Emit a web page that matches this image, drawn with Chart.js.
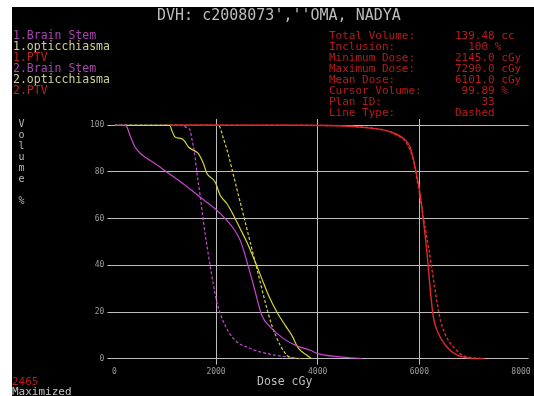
<!DOCTYPE html>
<html>
<head>
<meta charset="utf-8">
<script src="https://cdn.jsdelivr.net/npm/chart.js@4.4.1/dist/chart.umd.min.js"></script>
<style>
  html, body { margin: 0; padding: 0; background: #fff; }
  body { width: 534px; height: 396px; position: relative; overflow: hidden; font-family: "DejaVu Sans Mono", "Liberation Mono", monospace; }
  #panel { position: absolute; left: 12px; top: 7px; width: 522px; height: 389px; background: #000; }
  #chart { position: absolute; left: 0; top: 0; }
  .txt { position: absolute; white-space: pre; }
  #title { left: 157px; top: 6px; font-size: 15px; line-height: 18px; color: #bdbdbd; }
  #legend { left: 13px; top: 30px; font-size: 11.5px; line-height: 11px; }
  #info { left: 329px; top: 30px; font-size: 11px; line-height: 11px; color: #b81c1c; }
  #vals { left: 455px; top: 30px; font-size: 11px; line-height: 11px; color: #b81c1c; }
  #ylab { left: 17px; top: 118px; font-size: 10px; line-height: 11px; color: #b8b8b8; text-align: center; width: 9px; }
  #xlab { left: 257px; top: 375px; font-size: 11.5px; line-height: 13px; color: #bcbcbc; }
  #num { left: 12px; top: 376px; font-size: 11px; line-height: 11px; color: #b81c1c; }
  #maxi { left: 12px; top: 386px; font-size: 11px; line-height: 11px; color: #c4c4c4; }
</style>
</head>
<body>
<div id="panel"></div>
<canvas id="chart" width="534" height="396"></canvas>
<div class="txt" id="title">DVH: c2008073',''OMA, NADYA</div>
<div class="txt" id="legend"></div>
<div class="txt" id="info">Total Volume:
Inclusion:
Minimum Dose:
Maximum Dose:
Mean Dose:
Cursor Volume:
Plan ID:
Line Type:</div>
<div class="txt" id="vals">139.48 cc
  100 %
2145.0 cGy
7290.0 cGy
6101.0 cGy
 99.89 %
    33
Dashed</div>
<div class="txt" id="ylab">V
o
l
u
m
e

%</div>
<div class="txt" id="xlab">Dose cGy</div>
<div class="txt" id="num">2465</div>
<div class="txt" id="maxi">Maximized</div>
<script>
const xTicks = [0, 2000, 4000, 6000, 8000];
const yTicks = [0, 20, 40, 60, 80, 100];

const names = ['1.Brain Stem', '1.opticchiasma', '1.PTV', '2.Brain Stem', '2.opticchiasma', '2.PTV'];

// plan 1 (solid)
const bs1Dose = [0, 222, 307, 406, 536, 800, 1030, 1391, 1685, 2000, 2212, 2343, 2474, 2572, 2737, 2900, 3065, 3327, 3590, 3854, 4004, 4437, 4870];
const bs1Vol  = [100, 100, 95.7, 90.7, 87.5, 83.6, 80, 74.3, 69.3, 63.9, 59.3, 55.8, 50.8, 44.3, 31.5, 18.6, 13.6, 8.6, 5.5, 3.6, 2.2, 0.8, 0];
const oc1Dose = [0, 1094, 1128, 1193, 1325, 1391, 1456, 1555, 1653, 1752, 1818, 1983, 2081, 2212, 2343, 2474, 2605, 2770, 2900, 3032, 3197, 3361, 3492, 3623, 3788, 3880];
const oc1Vol  = [100, 100, 97.9, 95, 94.3, 92.9, 90.7, 89.3, 87.9, 83.6, 79.5, 75.7, 70, 66.5, 61.5, 55.8, 50, 41.5, 34.3, 27.2, 20, 14.3, 10, 4.4, 1.5, 0];
const ptv1Dose = [1100, 3455, 4439, 5088, 5423, 5684, 5816, 5914, 6013, 6078, 6145, 6210, 6274, 6373, 6538, 6735, 6997, 7290];
const ptv1Vol  = [100, 100, 99.8, 98.7, 97.3, 94.4, 90.8, 82.3, 70.9, 59.4, 46.6, 30.8, 18, 10.9, 5.1, 1.6, 0.2, 0];

// plan 2 (dashed)
const bs2Dose = [0, 1300, 1391, 1490, 1535, 1575, 1621, 1687, 1752, 1851, 1950, 2015, 2146, 2343, 2672, 3000, 3394, 3656];
const bs2Vol  = [100, 100, 99.3, 97.9, 92.9, 88.6, 80, 70, 58.6, 44.3, 31.5, 24.3, 15.8, 8.6, 4.4, 2.2, 0.8, 0];
const oc2Dose = [0, 2048, 2146, 2245, 2343, 2441, 2540, 2638, 2737, 2835, 2967, 3098, 3262, 3394, 3492, 3900];
const oc2Vol  = [100, 100, 94.3, 87.2, 78.6, 70, 61.5, 52.9, 44.3, 35.8, 24.3, 14.3, 5.8, 1.5, 0.3, 0];
const ptv2Dose = [1100, 3600, 4767, 5291, 5554, 5751, 5881, 5979, 6078, 6190, 6300, 6400, 6500, 6690, 6880, 7260];
const ptv2Vol  = [100, 100, 99.4, 98, 95.8, 92.3, 85.1, 73.7, 60.8, 46.6, 30.8, 18, 10.9, 4.5, 1.2, 0];

const MAGENTA = '#c846d0';
const YELLOW = '#d4d43c';
const RED = '#e02828';
const GRID = '#bdbdbd';

// legend text, coloured per structure
const legendColors = ['#a844b0', '#cfcf98', '#b82424', '#a844b0', '#cfcf98', '#b82424'];
document.getElementById('legend').innerHTML = names
    .map((n, i) => `<span style="color:${legendColors[i]}">${n}</span>`).join('\n');

const pts = (xs, ys) => xs.map((x, i) => ({ x: x, y: ys[i] }));

function curve(label, xs, ys, color, dashed, order) {
    return {
        label: label,
        data: pts(xs, ys),
        borderColor: color,
        borderWidth: color === RED ? 1.4 : 1.2,
        borderDash: dashed ? [3, 2] : [],
        pointRadius: 0,
        showLine: true,
        fill: false,
        cubicInterpolationMode: 'monotone',
        order: order
    };
}

const tickFont = { family: 'DejaVu Sans Mono', size: 8 };

new Chart(document.getElementById('chart'), {
    type: 'scatter',
    data: {
        datasets: [
            curve(names[0], bs1Dose, bs1Vol, MAGENTA, false, 3),
            curve(names[1], oc1Dose, oc1Vol, YELLOW, false, 4),
            curve(names[2], ptv1Dose, ptv1Vol, RED, false, 1),
            curve(names[3], bs2Dose, bs2Vol, MAGENTA, true, 6),
            curve(names[4], oc2Dose, oc2Vol, YELLOW, true, 5),
            curve(names[5], ptv2Dose, ptv2Vol, RED, true, 2)
        ]
    },
    options: {
        responsive: false,
        animation: false,
        layout: { padding: { left: 14.4, top: 119, right: 5.4, bottom: 17.3 } },
        plugins: { legend: { display: false }, tooltip: { enabled: false } },
        scales: {
            x: {
                type: 'linear',
                min: 0,
                max: 8150,
                afterBuildTicks: s => { s.ticks = xTicks.map(v => ({ value: v })); },
                afterFit: s => { s.height = 20; },
                border: { display: false },
                grid: {
                    color: c => (c.tick && c.tick.value > 0 && c.tick.value < 8000) ? GRID : 'rgba(0,0,0,0)',
                    lineWidth: 1,
                    tickLength: 6
                },
                ticks: { color: '#9c9c9c', font: tickFont, padding: 2, maxRotation: 0, callback: v => String(v) }
            },
            y: {
                min: 0,
                max: 102.7,
                afterBuildTicks: s => { s.ticks = yTicks.map(v => ({ value: v })); },
                afterFit: s => { s.width = 100; },
                border: { display: false },
                grid: { color: GRID, lineWidth: 1, tickLength: 7 },
                ticks: { color: '#9c9c9c', font: tickFont, padding: 3, callback: v => String(v) }
            }
        }
    }
});
</script>
</body>
</html>
